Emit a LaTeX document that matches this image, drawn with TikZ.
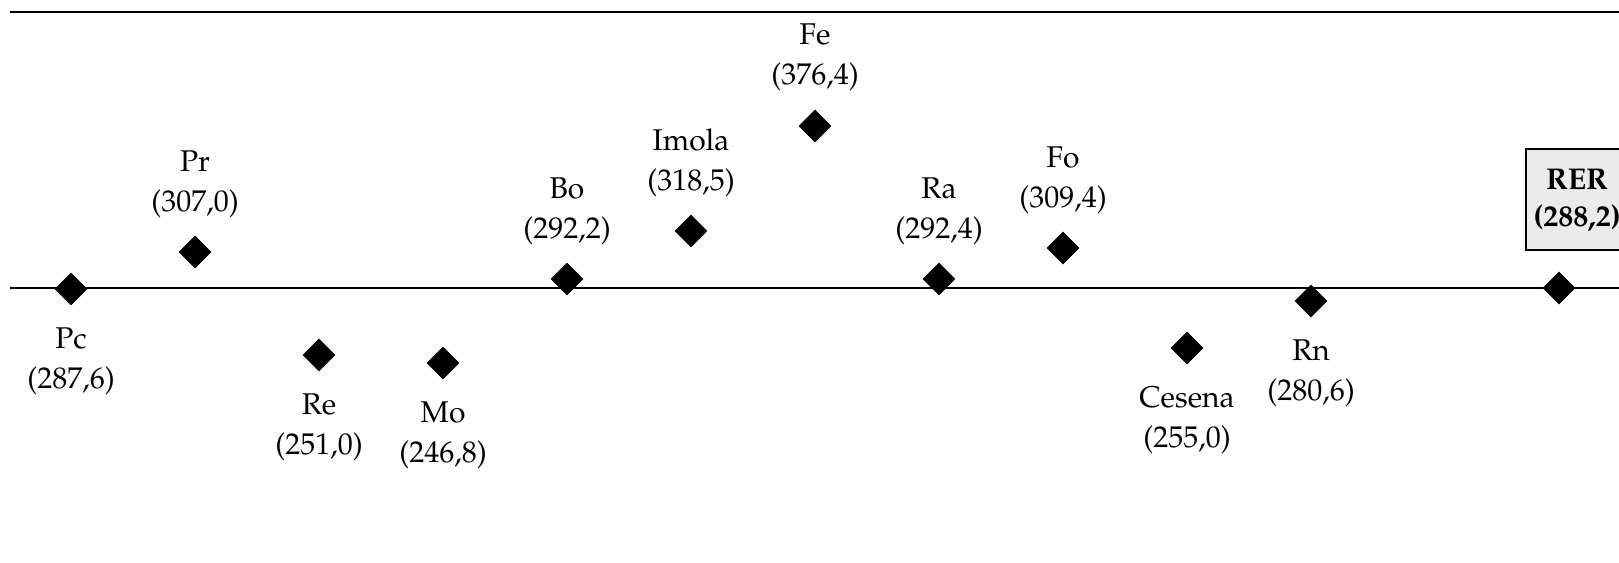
\documentclass[tikz,border=0pt]{standalone}
\usepackage[T1]{fontenc}
\renewcommand{\rmdefault}{ppl}
\usetikzlibrary{shapes.geometric}
\begin{document}
\begin{tikzpicture}[x=1pt,y=-1pt,
  dia/.style={diamond,fill=black,draw=none,inner sep=0pt,minimum width=33pt,minimum height=33pt},
  lbl/.style={inner sep=0pt,align=center,font=\fontsize{30}{40}\selectfont},
  rline/.style={line width=2pt},
  tline/.style={line width=2.7pt}]
\useasboundingbox (0,0) rectangle (1619,562);
\clip (0,0) rectangle (1619,562);
% lines
\coordinate (tl) at (10,12);
\coordinate (tr) at (1625,12);
\coordinate (ml) at (10,288);
\coordinate (mr) at (1625,288);
\draw[tline] (tl) -- (tr);
\draw[rline] (ml) -- (mr);
% RER box
\node[draw=black,line width=2pt,fill=gray!16,minimum width=110pt,minimum height=101pt,inner sep=0pt,anchor=north west] (box) at (1525,148) {};
\node[lbl,font=\fontsize{30}{37}\selectfont\bfseries] (rert) at (1577,200) {RER\\(288,2)};
% diamonds
\node[dia] (pc) at (71,289) {};
\node[dia] (pr) at (195,252) {};
\node[dia] (re) at (319,355) {};
\node[dia] (mo) at (443,363) {};
\node[dia] (bo) at (567,279) {};
\node[dia] (im) at (691,231) {};
\node[dia] (fe) at (815,126) {};
\node[dia] (ra) at (939,279) {};
\node[dia] (fo) at (1063,248) {};
\node[dia] (ce) at (1187,348) {};
\node[dia] (rn) at (1311,301) {};
\node[dia] (rer) at (1559,288) {};
% labels above
\node[lbl,anchor=south] (lpr) at ([yshift=34pt]pr.center) {Pr\\(307,0)};
\node[lbl,anchor=south] (lbo) at ([yshift=34pt]bo.center) {Bo\\(292,2)};
\node[lbl,anchor=south] (lim) at ([yshift=34pt]im.center) {Imola\\(318,5)};
\node[lbl,anchor=south] (lfe) at ([yshift=35pt]fe.center) {Fe\\(376,4)};
\node[lbl,anchor=south] (lra) at ([yshift=34pt]ra.center) {Ra\\(292,4)};
\node[lbl,anchor=south] (lfo) at ([yshift=34pt]fo.center) {Fo\\(309,4)};
% labels below
\node[lbl,anchor=north] (lpc) at ([yshift=-39pt]pc.center) {Pc\\(287,6)};
\node[lbl,anchor=north] (lre) at ([yshift=-39pt]re.center) {Re\\(251,0)};
\node[lbl,anchor=north] (lmo) at ([yshift=-39pt]mo.center) {Mo\\(246,8)};
\node[lbl,anchor=north] (lce) at ([yshift=-39pt]ce.center) {Cesena\\(255,0)};
\node[lbl,anchor=north] (lrn) at ([yshift=-39pt]rn.center) {Rn\\(280,6)};
\end{tikzpicture}
\end{document}
